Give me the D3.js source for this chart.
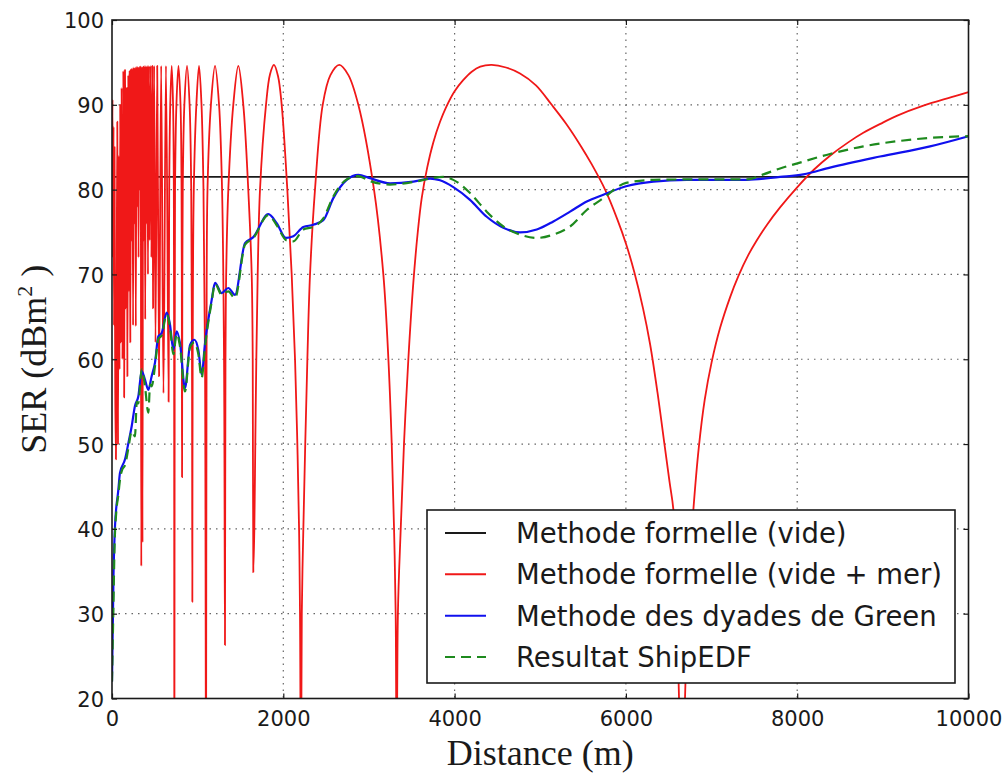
<!DOCTYPE html>
<html>
<head>
<meta charset="utf-8">
<script src="https://cdn.jsdelivr.net/npm/d3@7"></script>
<style>
  body { margin: 0; background: #fff; }
  svg { display: block; }
  .tick text { font-family: "DejaVu Sans", sans-serif; font-size: 21px; fill: #1a1a1a; }
</style>
</head>
<body>
<svg id="chart" width="1008" height="781"></svg>
<script>
// axis ticks
var xTicks = [0, 2000, 4000, 6000, 8000, 10000];
var yTicks = [20, 30, 40, 50, 60, 70, 80, 90, 100];

// series, [distance m, SER dBm2]
var freeSpace = [[0, 81.5], [10000, 81.5]];

var withSea = [
  [0, 80], [6, 90.6], [12, 72], [18, 87.4], [24, 64], [30, 85], [38, 56], [46, 48.2], [54, 66], [62, 88],
  [70, 50], [80, 84], [88, 58.8], [96, 90], [104, 62], [112, 92], [122, 60], [132, 94], [142, 55.5], [152, 94.1],
  [162, 66], [172, 92], [180, 58], [190, 93.5], [198, 68], [206, 94], [214, 62], [222, 94.2], [230, 74], [238, 94.3],
  [246, 64], [254, 94.4], [262, 76], [270, 94.4], [278, 63.9], [286, 94.5], [294, 78], [302, 94.5], [310, 72], [318, 94.5],
  [326, 80], [334, 94.5], [342, 35.6], [350, 94.5], [356, 38.4], [364, 94.5], [372, 74], [380, 94.6], [388, 64.7], [396, 94.6],
  [404, 76], [412, 94.6], [420, 70], [428, 94.6], [438, 74], [448, 94.6], [460, 72], [470, 94.6], [480, 66], [492, 94.6],
  [508, 62], [528, 94.6], [550, 58], [574, 94.6], [601, 56], [630, 94.6], [661, 55],
  [668, 80], [680, 90], [697, 94.6], [713, 90], [722, 80], [725.5, 60], [728, 5],
  [732, 60], [736, 80], [752, 90], [776, 94.6], [800, 90], [812, 80], [816, 60], [818, 46.1],
  [820, 60], [826, 80], [845, 90], [876, 94.6], [906, 90], [925, 80], [934, 60], [938, 31.4],
  [942, 60], [955, 80], [985, 90], [1016, 94.6], [1045, 90], [1068, 80], [1086, 60], [1098, 5],
  [1104, 60], [1115, 80], [1155, 90], [1203, 94.6], [1250, 90], [1285, 80], [1308, 60], [1319, 26.3],
  [1325, 60], [1333, 70], [1358, 80], [1416, 90], [1475, 94.6], [1533, 90], [1591, 80], [1631, 70], [1643, 60], [1650, 34.9],
  [1662, 40], [1673, 50], [1685, 60], [1701, 70], [1728, 80], [1798, 90], [1845, 93.6], [1891, 94.7], [1938, 93.4],
  [1981, 90], [2047, 80], [2098, 70], [2137, 60], [2164, 50], [2184, 40], [2195, 30], [2207, 5],
  [2216, 30], [2234, 40], [2281, 60], [2312, 70], [2370, 80], [2460, 90], [2550, 93.5], [2654, 94.7], [2760, 93.5],
  [2876, 90], [3059, 80], [3168, 70], [3227, 60], [3266, 50], [3293, 40], [3312, 30], [3324, 5],
  [3338, 30], [3371, 40], [3409, 50], [3460, 60], [3518, 69], [3570, 75], [3616, 79], [3680, 82.6], [3752, 85.6],
  [3830, 88], [3900, 89.7], [4000, 91.6], [4100, 92.9], [4200, 93.9], [4300, 94.5], [4433, 94.7], [4600, 94.4],
  [4764, 93.7], [4950, 92.3], [5134, 90], [5300, 87.8], [5464, 85.3], [5600, 83], [5757, 80], [5900, 76.5],
  [6002, 73.6], [6100, 70.2], [6200, 66], [6282, 61.8], [6370, 56], [6450, 50], [6510, 45.5], [6554, 42.3],
  [6590, 33], [6620, 20], [6655, 5], [6690, 20], [6740, 35], [6788, 42.3], [6850, 49.5], [6920, 55.2],
  [7000, 59.6], [7100, 63.7], [7216, 67.3], [7313, 69.8], [7430, 72.3], [7527, 74], [7650, 75.9], [7800, 77.9],
  [8002, 80.3], [8200, 82.4], [8383, 84], [8600, 85.6], [8772, 86.7], [9000, 87.9], [9162, 88.7], [9473, 89.9],
  [9800, 90.9], [10000, 91.5]
];

var greenDyad = [
  [0, 22], [18, 34.8], [35, 40.3], [74, 44.6], [93, 46.6], [152, 48.2], [191, 50.1], [230, 52.1], [268, 54.5],
  [307, 55.6], [347, 58.6], [385, 57.6], [424, 56.4], [463, 58.0], [502, 59.6], [541, 62.7], [580, 63.1],
  [638, 65.5], [677, 64.1], [716, 61.1], [755, 63.3], [794, 61.9], [852, 56.6], [911, 61.7], [961, 62.3],
  [1008, 61.1], [1047, 58.2], [1086, 61.9], [1164, 67.0], [1203, 69.0], [1281, 67.8], [1358, 68.4], [1436, 67.6],
  [1553, 73.7], [1650, 74.4], [1825, 77.1], [1923, 76.05], [2030, 74.3], [2117, 74.5], [2234, 75.6], [2350, 75.85],
  [2467, 76.4], [2584, 79.0], [2740, 81.15], [2876, 81.75], [3012, 81.35], [3246, 80.75], [3518, 80.95],
  [3713, 81.3], [3830, 81.1], [3985, 80.3], [4180, 78.8], [4375, 76.8], [4569, 75.5], [4764, 74.95], [4959, 75.3],
  [5153, 76.25], [5348, 77.4], [5543, 78.6], [5737, 79.4], [6002, 80.4], [6320, 80.95], [6710, 81.15],
  [7410, 81.15], [7800, 81.5], [8072, 81.8], [8383, 82.6], [8967, 83.9], [9551, 85.1], [10000, 86.3]
];

var shipEdf = [
  [0, 22], [15, 30], [30, 38], [50, 42], [74, 44], [93, 45.8], [120, 47], [152, 47.5], [191, 49.5], [230, 51.5],
  [268, 50.9], [290, 55], [307, 54.8], [347, 58.8], [385, 56.8], [424, 53.7], [445, 57], [463, 56.8], [502, 59.2],
  [541, 62.4], [580, 62.8], [638, 65.3], [677, 63.8], [716, 60.6], [755, 63.0], [794, 61.5], [852, 56.2],
  [911, 61.4], [961, 62.0], [1008, 60.6], [1047, 57.8], [1086, 61.5], [1164, 66.8], [1203, 68.9], [1281, 67.6],
  [1358, 68.0], [1436, 67.2], [1553, 73.5], [1650, 74.3], [1825, 77.0], [1923, 75.8], [2039, 74.0], [2117, 73.9],
  [2234, 75.3], [2350, 75.6], [2467, 76.6], [2584, 79.2], [2740, 81.2], [2876, 81.6], [3012, 81.0], [3246, 80.6],
  [3518, 80.9], [3713, 81.3], [3868, 81.5], [3985, 81.15], [4180, 79.6], [4375, 77.4], [4569, 75.65], [4764, 74.7],
  [4959, 74.3], [5153, 74.7], [5348, 75.65], [5543, 77.6], [5737, 79.0], [6002, 80.8], [6320, 81.15], [6710, 81.2],
  [7410, 81.2], [7605, 81.8], [7800, 82.5], [8002, 83.1], [8383, 84.2], [8772, 85.1], [9162, 85.7], [9551, 86.1],
  [10000, 86.3]
];

var legendLabels = ["Methode formelle (vide)", "Methode formelle (vide + mer)", "Methode des dyades de Green", "Resultat ShipEDF"];

var svg = d3.select("#chart");
var pLeft = 112, pRight = 968.5, pTop = 20, pBottom = 698.5;

var x = d3.scaleLinear().domain([0, 10000]).range([pLeft, pRight]);
var y = d3.scaleLinear().domain([20, 100]).range([pBottom, pTop]);

// grille pointillee
var grid = svg.append("g");
grid.selectAll(".vg").data(xTicks.slice(1, -1)).enter().append("line")
    .attr("x1", d => x(d)).attr("x2", d => x(d))
    .attr("y1", pTop).attr("y2", pBottom)
    .attr("stroke", "#666").attr("stroke-width", 1.2).attr("stroke-dasharray", "1.5,5");
grid.selectAll(".hg").data(yTicks.slice(1, -1)).enter().append("line")
    .attr("x1", pLeft).attr("x2", pRight)
    .attr("y1", d => y(d)).attr("y2", d => y(d))
    .attr("stroke", "#666").attr("stroke-width", 1.2).attr("stroke-dasharray", "1.5,5");

svg.append("clipPath").attr("id", "plotClip")
    .append("rect").attr("x", pLeft).attr("y", pTop).attr("width", pRight - pLeft).attr("height", pBottom - pTop);

var line = d3.line().x(d => x(d[0])).y(d => y(d[1]));
var smooth = d3.line().x(d => x(d[0])).y(d => y(d[1])).curve(d3.curveMonotoneX);
var smoothRed = d3.line().x(d => x(d[0])).y(d => y(d[1])).curve(d3.curveCatmullRom.alpha(0.5));

var plot = svg.append("g").attr("clip-path", "url(#plotClip)");
plot.append("path").attr("d", line(freeSpace))
    .attr("fill", "none").attr("stroke", "#1a1a1a").attr("stroke-width", 1.7);
plot.append("path").attr("d", smoothRed(withSea))
    .attr("fill", "none").attr("stroke", "#f01818").attr("stroke-width", 1.8).attr("stroke-linejoin", "round");
plot.append("path").attr("d", smooth(greenDyad))
    .attr("fill", "none").attr("stroke", "#1010ee").attr("stroke-width", 2.2);
plot.append("path").attr("d", smooth(shipEdf))
    .attr("fill", "none").attr("stroke", "#1e8a1e").attr("stroke-width", 2.2).attr("stroke-dasharray", "10,6");

// axes, ticks vers l'interieur
var xAxis = d3.axisBottom(x).tickValues(xTicks).tickSize(-5).tickPadding(9).tickFormat(d3.format("d"));
var yAxis = d3.axisLeft(y).tickValues(yTicks).tickSize(-5).tickPadding(8).tickFormat(d3.format("d"));

var gx = svg.append("g").attr("transform", "translate(0," + pBottom + ")").call(xAxis);
var gy = svg.append("g").attr("transform", "translate(" + pLeft + ",0)").call(yAxis);
svg.append("g").attr("transform", "translate(0," + pTop + ")")
    .call(d3.axisTop(x).tickValues(xTicks).tickSize(-5).tickFormat(""));
svg.append("g").attr("transform", "translate(" + pRight + ",0)")
    .call(d3.axisRight(y).tickValues(yTicks).tickSize(-5).tickFormat(""));
svg.selectAll(".domain").remove();
svg.selectAll(".tick line").attr("stroke", "#1a1a1a").attr("stroke-width", 1.2);
gx.selectAll("text").attr("dy", "0.9em");
gy.selectAll("text").attr("dy", "0.38em");

svg.append("rect").attr("x", pLeft).attr("y", pTop).attr("width", pRight - pLeft).attr("height", pBottom - pTop)
    .attr("fill", "none").attr("stroke", "#1a1a1a").attr("stroke-width", 1.6);

// titres d'axes
svg.append("text").attr("x", (pLeft + pRight) / 2).attr("y", 765)
    .attr("text-anchor", "middle").attr("font-family", "Liberation Serif, serif").attr("font-size", 36)
    .attr("fill", "#1a1a1a").text("Distance (m)");
var yl = svg.append("text").attr("transform", "translate(46," + (pTop + pBottom) / 2 + ") rotate(-90)")
    .attr("text-anchor", "middle").attr("font-family", "Liberation Serif, serif").attr("font-size", 36)
    .attr("fill", "#1a1a1a");
yl.append("tspan").text("SER (dBm");
yl.append("tspan").attr("font-size", 22).attr("dy", -14).text("2");
yl.append("tspan").attr("dy", 14).text(" )");

// legende
var legend = svg.append("g");
legend.append("rect").attr("x", 427).attr("y", 510).attr("width", 528).attr("height", 173)
    .attr("fill", "#fff").attr("stroke", "#1a1a1a").attr("stroke-width", 1.6);
var legColors = ["#1a1a1a", "#f01818", "#1010ee", "#1e8a1e"];
var legDash = [null, null, null, "10,6"];
var rowY = d3.scalePoint().domain(legendLabels).range([533, 657]);
legendLabels.forEach(function (lab, i) {
    legend.append("line").attr("x1", 445).attr("x2", 486).attr("y1", rowY(lab)).attr("y2", rowY(lab))
        .attr("stroke", legColors[i]).attr("stroke-width", 2).attr("stroke-dasharray", legDash[i]);
    legend.append("text").attr("x", 516).attr("y", rowY(lab)).attr("dy", "0.36em")
        .attr("font-family", "DejaVu Sans, sans-serif").attr("font-size", 27.5).attr("fill", "#1a1a1a")
        .text(lab);
});
</script>
</body>
</html>
